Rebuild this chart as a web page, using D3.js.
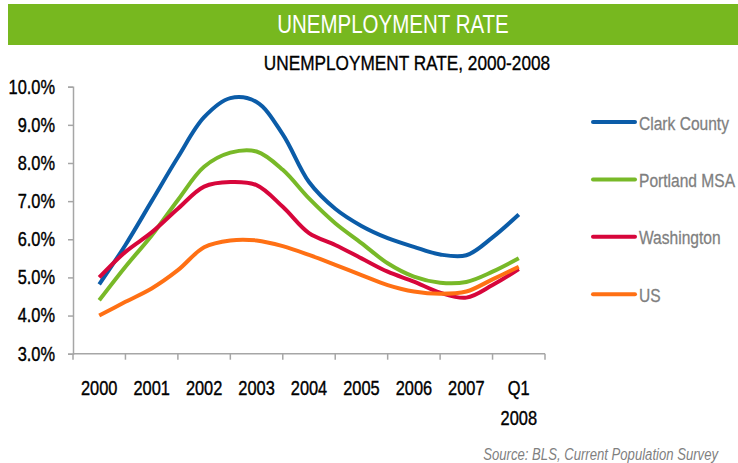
<!DOCTYPE html>
<html>
<head>
<meta charset="utf-8">
<script src="https://cdn.jsdelivr.net/npm/d3@7"></script>
<style>
  html, body { margin: 0; padding: 0; background: #fff; }
  svg { display: block; }
  text { font-family: "Liberation Sans", Arial, sans-serif; }
</style>
</head>
<body>
<svg id="chart" width="738" height="463"></svg>
<script>
// Axis categories (years, last one is a quarter)
const categories = ["2000", "2001", "2002", "2003", "2004", "2005", "2006", "2007", "Q1 2008"];

// Half-year observation periods plotted along the category axis
const periods = [
  "2000", "2000 H2", "2001", "2001 H2", "2002", "2002 H2", "2003", "2003 H2",
  "2004", "2004 H2", "2005", "2005 H2", "2006", "2006 H2", "2007", "2007 H2", "Q1 2008"
];

// Unemployment rate (%) per period
const clarkCounty = [4.82, 5.85, 7.0, 8.15, 9.2, 9.7, 9.6, 8.75, 7.5, 6.8, 6.35, 6.03, 5.8, 5.6, 5.58, 6.05, 6.65];
const portlandMSA = [4.4, 5.28, 6.1, 7.03, 7.9, 8.27, 8.3, 7.82, 7.07, 6.42, 5.9, 5.37, 5.02, 4.86, 4.88, 5.15, 5.5];
const washington  = [5.0, 5.67, 6.18, 6.8, 7.38, 7.5, 7.42, 6.85, 6.16, 5.85, 5.5, 5.15, 4.89, 4.6, 4.47, 4.8, 5.22];
const us          = [4.0, 4.36, 4.71, 5.19, 5.79, 5.97, 5.97, 5.82, 5.59, 5.33, 5.06, 4.8, 4.63, 4.57, 4.63, 4.95, 5.28];

const seriesNames = ["Clark County", "Portland MSA", "Washington", "US"];
const seriesValues = [clarkCounty, portlandMSA, washington, us];
const seriesColors = ["#0b5ca8", "#78b928", "#d7063b", "#ff7014"];

const yTicks = [3, 4, 5, 6, 7, 8, 9, 10];

const bannerTitle = "UNEMPLOYMENT RATE";
const chartTitle = "UNEMPLOYMENT RATE, 2000-2008";
const sourceNote = "Source: BLS, Current Population Survey";

const svg = d3.select("#chart");
const W = 738;
const NARROW = 0.82;   // condensed lettering: glyphs squeezed horizontally

// Squeeze a text element horizontally about its own x anchor
function condense(node) {
  const ax = +(node.getAttribute("x") || 0);
  d3.select(node).attr("transform",
    `translate(${ax},0) scale(${NARROW},1) translate(${-ax},0)`);
}

// Green header banner
svg.append("rect")
  .attr("x", 8).attr("y", 4).attr("width", W - 8).attr("height", 41)
  .attr("fill", "#77b81f");
svg.append("text")
  .attr("x", 393).attr("y", 24.5)
  .attr("text-anchor", "middle").attr("dominant-baseline", "central")
  .attr("fill", "#fff").attr("font-size", 25)
  .text(bannerTitle);

svg.append("text")
  .attr("x", 407).attr("y", 63)
  .attr("text-anchor", "middle").attr("dominant-baseline", "central")
  .attr("fill", "#000").attr("font-size", 21)
  .attr("stroke", "#000").attr("stroke-width", 0.35)
  .text(chartTitle);

// Plot area
const plotLeft = 73, plotRight = 545, plotTop = 86.7, plotBottom = 353.7;

const x = d3.scaleBand().domain(categories).range([plotLeft, plotRight]).padding(0);
const xp = d3.scalePoint().domain(periods)
  .range([x(categories[0]) + x.bandwidth() / 2, x(categories[categories.length - 1]) + x.bandwidth() / 2]);
const y = d3.scaleLinear().domain([3, 10]).range([plotBottom, plotTop]);

const axisColor = "#a6a6a6";

// Y axis
const yAxis = svg.append("g")
  .attr("transform", `translate(${plotLeft},0)`)
  .call(d3.axisLeft(y).tickValues(yTicks).tickSize(5).tickPadding(13)
    .tickFormat(d => d.toFixed(1) + "%"));
yAxis.attr("font-family", null);
yAxis.select(".domain").attr("stroke", axisColor).attr("stroke-width", 1.5);
yAxis.selectAll(".tick line").attr("stroke", axisColor).attr("stroke-width", 1.5);
yAxis.selectAll(".tick text")
  .attr("font-size", 20).attr("fill", "#000")
  .attr("stroke", "#000").attr("stroke-width", 0.4);

// X axis: labels centred in bands, tick marks on band edges
const xAxis = svg.append("g")
  .attr("transform", `translate(0,${plotBottom})`)
  .call(d3.axisBottom(x).tickSize(0).tickPadding(0));
xAxis.attr("font-family", null);
xAxis.select(".domain").remove();
xAxis.selectAll(".tick text").remove();
xAxis.selectAll(".tick").each(function (d) {
  const parts = d.split(" ");
  const t = d3.select(this).append("text")
    .attr("fill", "#000").attr("font-size", 20)
    .attr("stroke", "#000").attr("stroke-width", 0.4)
    .attr("text-anchor", "middle");
  parts.forEach((p, i) => {
    t.append("tspan").attr("x", 0).attr("y", 41.5 + i * 30).text(p);
  });
});
svg.append("line")
  .attr("x1", plotLeft).attr("x2", plotRight).attr("y1", plotBottom).attr("y2", plotBottom)
  .attr("stroke", axisColor).attr("stroke-width", 1.5);
const edges = categories.map(c => x(c)).concat([x(categories[categories.length - 1]) + x.bandwidth()]);
svg.append("g").selectAll("line").data(edges).join("line")
  .attr("x1", d => d).attr("x2", d => d)
  .attr("y1", plotBottom).attr("y2", plotBottom + 6)
  .attr("stroke", axisColor).attr("stroke-width", 1.5);

// Series lines
const line = d3.line()
  .x((d, i) => xp(periods[i]))
  .y(d => y(d))
  .curve(d3.curveCatmullRom.alpha(0.5));

svg.append("g").selectAll("path").data(seriesValues).join("path")
  .attr("d", d => line(d))
  .attr("fill", "none")
  .attr("stroke", (d, i) => seriesColors[i])
  .attr("stroke-width", 4)
  .attr("stroke-linejoin", "round");

// Legend
const legend = svg.append("g").attr("transform", "translate(593,122)");
const items = legend.selectAll("g").data(seriesNames).join("g")
  .attr("transform", (d, i) => `translate(0,${i * 57.4})`);
items.append("line")
  .attr("x1", 0).attr("x2", 42).attr("y1", 0).attr("y2", 0)
  .attr("stroke", (d, i) => seriesColors[i])
  .attr("stroke-width", 4).attr("stroke-linecap", "round");
items.append("text")
  .attr("x", 46).attr("y", 1)
  .attr("dominant-baseline", "central")
  .attr("font-size", 19).attr("fill", "#7f7f7f")
  .attr("stroke", "#7f7f7f").attr("stroke-width", 0.3)
  .text(d => d);

// Source note
svg.append("text")
  .attr("x", 718).attr("y", 454.5)
  .attr("text-anchor", "end").attr("dominant-baseline", "central")
  .attr("font-size", 16).attr("font-style", "italic").attr("fill", "#7f7f7f")
  .text(sourceNote);

// Condense every label
svg.selectAll("text").each(function () { condense(this); });
</script>
</body>
</html>
